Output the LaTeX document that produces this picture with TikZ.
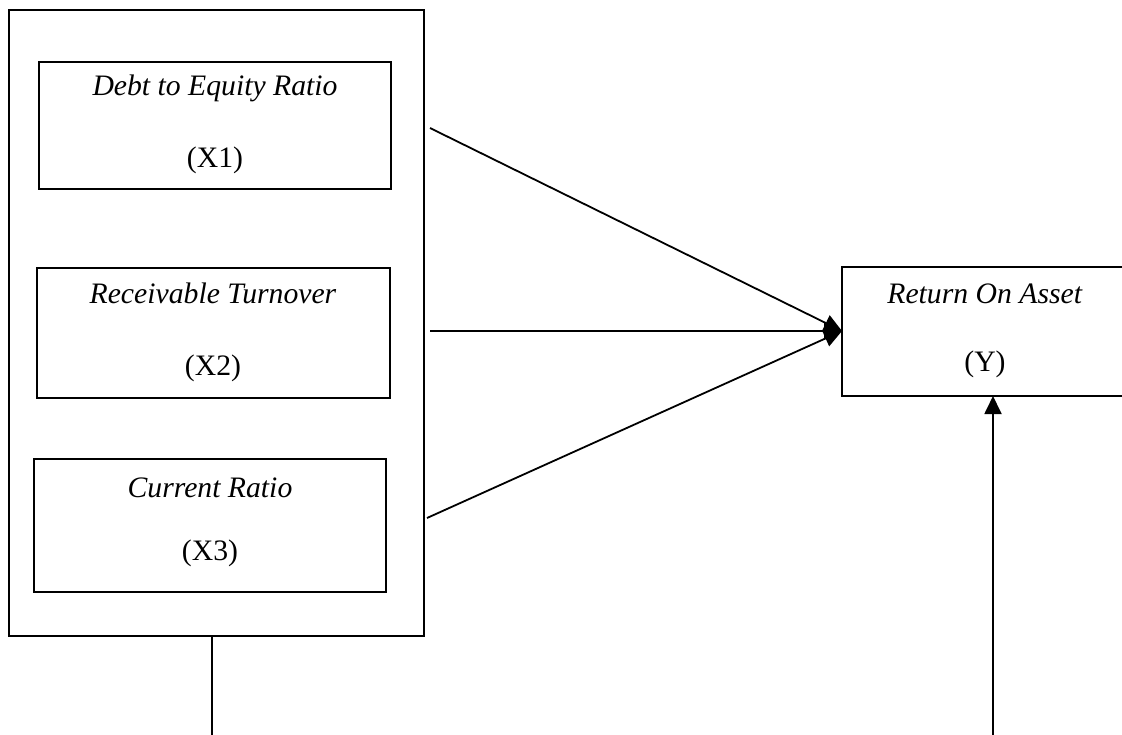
\documentclass[tikz,border=0pt]{standalone}
\usepackage{fontspec}
\setmainfont{Liberation Serif}
\usetikzlibrary{arrows.meta}
\begin{document}
\begin{tikzpicture}[x=1pt,y=-1pt,
  box/.style={draw,line width=1.8pt},
  lbl/.style={font=\fontsize{29.7}{35}\selectfont,inner sep=0pt},
  conn/.style={line width=1.8pt,-{Triangle[length=18pt,width=17pt]}}]
\useasboundingbox (0,0) rectangle (1122,734);
\clip (0,0) rectangle (1122,734);
\fill[white] (0,0) rectangle (1122,734);
% outer box
\draw[box] (9,10) rectangle (424,636);
\coordinate (outerbot) at (212,636);
% inner boxes
\draw[box] (39,62) rectangle (391,189);
\node[lbl] (t1) at (215,88) {\textit{Debt to Equity Ratio}};
\node[lbl] (n1) at (215,160) {(X1)};
\draw[box] (37,268) rectangle (390,398);
\node[lbl] (t2) at (213,293) {\textit{Receivable Turnover}};
\node[lbl] (n2) at (213,368) {(X2)};
\draw[box] (34,459) rectangle (386,592);
\node[lbl] (t3) at (210,488) {\textit{Current Ratio}};
\node[lbl] (n3) at (210,553) {(X3)};
% Y box
\draw[box] (842,267) rectangle (1124,396);
\node[lbl] (ty) at (985,294) {\textit{Return On Asset}};
\node[lbl] (ny) at (985,364) {(Y)};
\coordinate (yin) at (842,331);
\coordinate (ybot) at (993,396);
% start points
\coordinate (s1) at (430,128);
\coordinate (s2) at (430,331);
\coordinate (s3) at (427,518);
\coordinate (b1) at (212,740);
\coordinate (b2) at (993,740);
\draw[conn] (s1) -- (yin);
\draw[conn] (s2) -- (yin);
\draw[conn] (s3) -- (yin);
\draw[line width=1.8pt] (outerbot) -- (b1);
\draw[conn] (b2) -- (ybot);
\end{tikzpicture}
\end{document}
